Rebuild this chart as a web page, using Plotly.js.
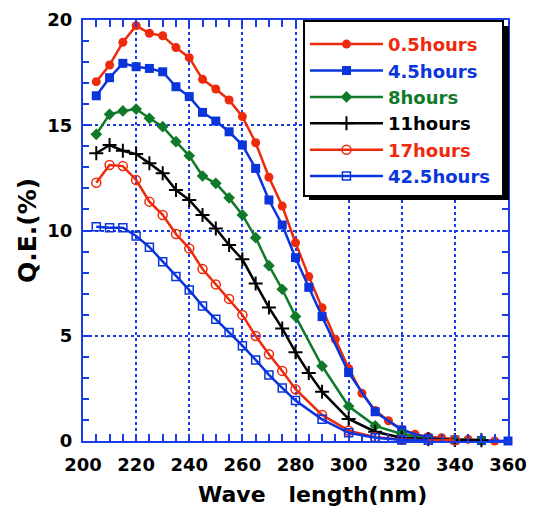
<!DOCTYPE html>
<html>
<head>
<meta charset="utf-8">
<script src="https://cdn.plot.ly/plotly-3.0.1.min.js"></script>
<style>html,body{margin:0;padding:0;background:#fff;}#chart{width:533px;height:510px;}</style>
</head>
<body>
<div id="chart"></div>
<script>
// ---- data ----
const seriesNames = ["0.5hours", "4.5hours", "8hours", "11hours", "17hours", "42.5hours"];

const x_05h = [205,210,215,220,225,230,235,240,245,250,255,260,265,270,275,280,285,290,295,300,305,310,315,320,325,330,335,340,345,350,355];
const y_05h = [17.07,17.86,18.94,19.73,19.37,19.25,18.69,18.21,17.18,16.72,16.2,15.41,14.17,12.53,11.16,9.42,7.81,6.33,4.83,3.45,2.27,1.45,0.96,0.55,0.32,0.2,0.16,0.08,0.08,0.05,0.0];

const x_45h = [205,210,215,220,225,230,235,240,245,250,255,260,265,270,275,280,285,290,300,310,320,330,340,350,360];
const y_45h = [16.40,17.26,17.94,17.78,17.70,17.54,16.83,16.36,15.61,15.20,14.69,14.06,12.95,11.45,10.26,8.71,7.30,5.91,3.25,1.39,0.52,0.13,0.05,0.02,0.0];

const x_8h = [205,210,215,220,225,230,235,240,245,250,255,260,265,270,275,280,290,300,310,320,330,340,350];
const y_8h = [14.57,15.52,15.68,15.77,15.33,14.93,14.22,13.55,12.59,12.24,11.55,10.74,9.66,8.33,7.21,5.92,3.56,1.65,0.72,0.33,0.1,0.05,0.03];

const x_11h = [205,210,215,220,225,230,235,240,245,250,255,260,265,270,275,280,285,290,300,310,320,330,340,350];
const y_11h = [13.67,14.06,13.79,13.63,13.19,12.72,11.92,11.45,10.74,10.10,9.31,8.63,7.48,6.34,5.35,4.22,3.23,2.34,1.05,0.44,0.15,0.08,0.05,0.03];

const x_17h = [205,210,215,220,225,230,235,240,245,250,255,260,265,270,275,280,290,300,310,320,330,340];
const y_17h = [12.27,13.11,13.06,12.40,11.37,10.74,9.83,9.15,8.17,7.44,6.75,5.99,4.99,4.12,3.33,2.46,1.24,0.49,0.18,0.07,0.04,0.03];

const x_425h = [205,210,215,220,225,230,235,240,245,250,255,260,265,270,275,280,290,300,310,320,330];
const y_425h = [10.18,10.13,10.13,9.74,9.21,8.52,7.81,7.17,6.41,5.78,5.16,4.53,3.85,3.14,2.52,1.92,1.03,0.39,0.15,0.05,0.03];

const xTickVals = [200,220,240,260,280,300,320,340,360];
const yTickVals = [0,5,10,15,20];
const xTitle = 'Wave\u00a0\u00a0\u00a0length(nm)';
const yTitle = 'Q.E.(%)';

// ---- styles ----
const RED = '#ee2a0c', BLUE = '#0a34dc', GREEN = '#107a2a', BLACK = '#000000';
const styles = [
  {color: RED,   symbol: 'circle',          size: 9,  lw: 0},
  {color: BLUE,  symbol: 'square',          size: 9,  lw: 0},
  {color: GREEN, symbol: 'diamond',         size: 9,  lw: 0},
  {color: BLACK, symbol: 'cross-thin-open', size: 10, lw: 2},
  {color: RED,   symbol: 'circle-open',     size: 9,  lw: 1.5},
  {color: BLUE,  symbol: 'square-open',     size: 8,  lw: 1.5}
];
const xs = [x_05h, x_45h, x_8h, x_11h, x_17h, x_425h];
const ys = [y_05h, y_45h, y_8h, y_11h, y_17h, y_425h];

const traces = seriesNames.map((nm, i) => ({
  type: 'scatter', mode: 'lines+markers',
  x: xs[i], y: ys[i],
  name: '<span style="color:' + styles[i].color + '">' + nm + '\u00a0</span>',
  cliponaxis: false,
  line: {color: styles[i].color, width: 2.5},
  marker: {color: styles[i].color, symbol: styles[i].symbol, size: styles[i].size,
           line: {color: styles[i].color, width: styles[i].lw}}
}));

const FONT = 'DejaVu Sans, Verdana, sans-serif';
const AX = '#1a3ce8';

const layout = {
  width: 533, height: 510,
  margin: {l: 83, r: 25, t: 20, b: 69},
  paper_bgcolor: '#fff', plot_bgcolor: '#fff',
  font: {family: FONT, size: 18, color: '#000', weight: 'bold'},
  showlegend: true,
  legend: {
    x: 0.5176, y: 1, xanchor: 'left', yanchor: 'top',
    bgcolor: '#fff', bordercolor: '#000', borderwidth: 2,
    font: {family: FONT, size: 18, weight: 'bold'},
    itemwidth: 73,
    title: {text: '\u00a0', font: {size: 3}}
  },
  xaxis: {
    range: [200, 360], tickvals: xTickVals, ticktext: xTickVals.map(String),
    showline: true, linecolor: AX, linewidth: 2, mirror: 'allticks',
    ticks: 'inside', ticklen: 7, tickwidth: 2, tickcolor: AX,
    minor: {dtick: 5, ticks: 'inside', ticklen: 7, tickwidth: 2, tickcolor: AX, showgrid: false},
    showgrid: true, gridcolor: AX, gridwidth: 2, griddash: '3px,3px',
    zeroline: false, ticklabelstandoff: 6,
    tickfont: {family: FONT, size: 18, weight: 'bold', color: '#000'}
  },
  yaxis: {
    range: [0, 20], tickvals: yTickVals, ticktext: yTickVals.map(String),
    showline: true, linecolor: AX, linewidth: 2, mirror: 'allticks',
    ticks: 'inside', ticklen: 6, tickwidth: 2, tickcolor: AX,
    minor: {dtick: 1, ticks: 'inside', ticklen: 6, tickwidth: 2, tickcolor: AX, showgrid: false},
    showgrid: true, gridcolor: AX, gridwidth: 2, griddash: '3px,3px',
    zeroline: false, ticklabelstandoff: 5,
    tickfont: {family: FONT, size: 18, weight: 'bold', color: '#000'},
    title: {text: yTitle, standoff: 4, font: {family: FONT, size: 25, weight: 'bold', color: '#000'}}
  },
  annotations: [
    {text: xTitle, xref: 'paper', yref: 'paper', x: (312 - 83) / 425, y: (441 - 494) / 421,
     xanchor: 'center', yanchor: 'middle', showarrow: false,
     font: {family: FONT, size: 22, weight: 'bold', color: '#000'}}
  ],
  shapes: [
    {type: 'rect', xref: 'paper', yref: 'paper', layer: 'above',
     x0: (309 - 83) / 425, x1: (509 - 83) / 425, y0: (441 - 200) / 421, y1: (441 - 26) / 421,
     fillcolor: '#000', line: {width: 0}}
  ]
};

Plotly.newPlot('chart', traces, layout, {displayModeBar: false, staticPlot: true});
</script>
</body>
</html>
